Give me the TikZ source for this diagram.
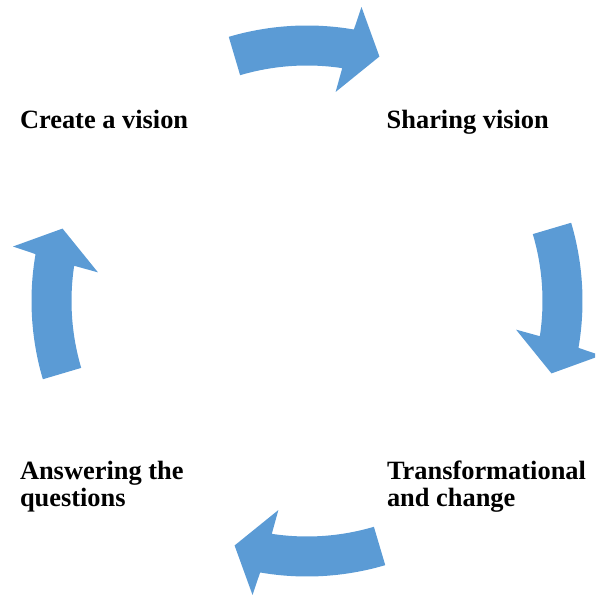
\documentclass[tikz,border=0pt]{standalone}
\usepackage{fontspec}
\setmainfont{Liberation Serif}
\definecolor{arrowblue}{RGB}{91,155,213}
\tikzset{
  cyclearrow/.style={fill=arrowblue, draw=none},
  lbl/.style={inner sep=0pt, outer sep=0pt, align=left, font=\fontsize{26.4}{27}\selectfont\bfseries}
}
\newcommand{\cyclearr}[1]{%
  \fill[cyclearrow] (106.5+#1:275.5pt) arc[start angle=106.5+#1, end angle=80.2+#1, radius=275.5pt]
    -- (79.5+#1:299pt) -- (73.5+#1:255pt) -- (82.2+#1:211pt) -- (81.4+#1:235.5pt)
    arc[start angle=81.4+#1, end angle=106.5+#1, radius=235.5pt] -- cycle;}
\begin{document}
\begin{tikzpicture}[x=1pt,y=1pt]
\useasboundingbox (0,0) rectangle (595,596);
\clip (0,0) rectangle (595,596);
\coordinate (C) at (307,295);
\begin{scope}[shift={(C)}]
  \cyclearr{0}
  \cyclearr{-90}
  \cyclearr{-180}
  \cyclearr{-270}
\end{scope}
\node[lbl, anchor=base west] (create) at (20,467.7) {Create a vision};
\node[lbl, anchor=base west] (share) at (386.7,467.7) {Sharing vision};
\node[lbl, anchor=base west] (answer) at (20,89) {Answering the\\questions};
\node[lbl, anchor=base west] (transform) at (387,89) {Transformational\\and change};
\end{tikzpicture}
\end{document}
